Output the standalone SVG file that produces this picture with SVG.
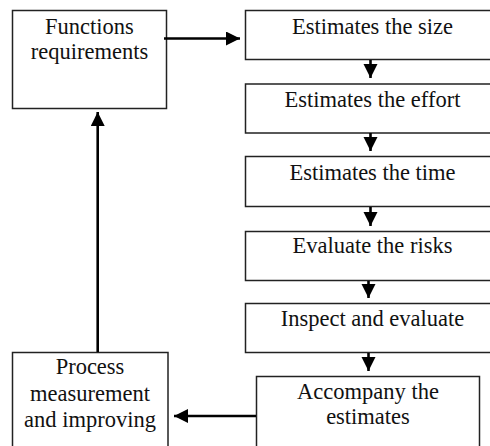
<svg xmlns="http://www.w3.org/2000/svg" width="490" height="446" viewBox="0 0 490 446">
<style>
.box{fill:#fff;stroke:#222;stroke-width:1.5}
text{font-family:"Liberation Serif","Times New Roman",serif;font-size:22.5px;fill:#111;text-anchor:middle}
.c{stroke:#000;stroke-width:2.6;fill:none}
</style>
<defs>
<marker id="ah" markerUnits="userSpaceOnUse" markerWidth="16" markerHeight="16" refX="14" refY="7" orient="auto">
<path d="M0,0 L14,7 L0,14 Z" fill="#000"/>
</marker>
</defs>
<rect width="490" height="446" fill="#fff"/>
<g id="functions">
<rect class="box" x="12.5" y="10.5" width="154" height="98"/>
<text x="89.5" y="33.5">Functions</text>
<text x="89.5" y="58.5">requirements</text>
</g>
<g id="size">
<rect class="box" x="245.5" y="10.5" width="254" height="49"/>
<text x="372.5" y="33.5">Estimates the size</text>
</g>
<g id="effort">
<rect class="box" x="245.5" y="84" width="254" height="49"/>
<text x="372.5" y="106.5">Estimates the effort</text>
</g>
<g id="time">
<rect class="box" x="245.5" y="156.5" width="254" height="50"/>
<text x="372.5" y="179.5">Estimates the time</text>
</g>
<g id="risks">
<rect class="box" x="245.5" y="231.5" width="254" height="49"/>
<text x="372.5" y="252.5">Evaluate the risks</text>
</g>
<g id="inspect">
<rect class="box" x="245.5" y="303.5" width="254" height="49"/>
<text x="372.5" y="325.5">Inspect and evaluate</text>
</g>
<g id="accompany">
<rect class="box" x="256.5" y="376.5" width="223" height="80"/>
<text x="368" y="398.5">Accompany the</text>
<text x="368" y="423.5">estimates</text>
</g>
<g id="process">
<rect class="box" x="12.5" y="352.5" width="155.5" height="100"/>
<text x="90" y="374">Process</text>
<text x="90" y="400.5">measurement</text>
<text x="90" y="426.5">and improving</text>
</g>
<g id="connectors">
<line class="c" x1="164" y1="38.5" x2="240" y2="38.5" marker-end="url(#ah)"/>
<line class="c" x1="370.5" y1="60" x2="370.5" y2="78" marker-end="url(#ah)"/>
<line class="c" x1="370.5" y1="133" x2="370.5" y2="151" marker-end="url(#ah)"/>
<line class="c" x1="370.5" y1="207" x2="370.5" y2="226" marker-end="url(#ah)"/>
<line class="c" x1="368.5" y1="281" x2="368.5" y2="298" marker-end="url(#ah)"/>
<line class="c" x1="368.5" y1="353" x2="368.5" y2="371" marker-end="url(#ah)"/>
<line class="c" x1="256" y1="416" x2="174" y2="416" marker-end="url(#ah)"/>
<line class="c" x1="97.7" y1="352" x2="97.7" y2="112" marker-end="url(#ah)"/>
</g>
</svg>
